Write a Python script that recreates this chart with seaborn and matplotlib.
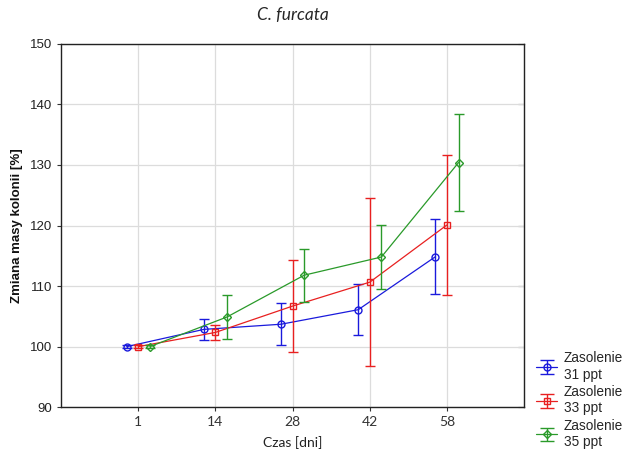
import numpy as np
import pandas as pd
import matplotlib
matplotlib.use("Agg")
import matplotlib.pyplot as plt
import seaborn as sns

days = ["1", "14", "28", "42", "58"]
series = ["Zasolenie\n31 ppt", "Zasolenie\n33 ppt", "Zasolenie\n35 ppt"]
mean_31 = [100.0, 102.85, 103.7, 106.1, 114.85]
err_31 = [0.3, 1.7, 3.5, 4.2, 6.2]
mean_33 = [100.0, 102.35, 106.7, 110.65, 120.1]
err_33 = [0.3, 1.2, 7.6, 13.85, 11.6]
mean_35 = [100.0, 104.9, 111.8, 114.8, 130.4]
err_35 = [0.3, 3.7, 4.4, 5.3, 8.0]

means = [mean_31, mean_33, mean_35]
errs = [err_31, err_33, err_35]
colors = ["#1a1adc", "#e82020", "#2a9a2a"]
markers = ["o", "s", "D"]
msizes = [5, 5, 3.8]
offsets = [-0.15, 0.0, 0.15]

rows = []
for s, m, e, off in zip(series, means, errs, offsets):
    for i, (d, v, ee) in enumerate(zip(days, m, e)):
        rows.append({"series": s, "day": d, "x": i + off, "mean": v, "err": ee})
df = pd.DataFrame(rows)

sns.set_style("whitegrid")
plt.rcParams["font.family"] = ["Liberation Sans", "DejaVu Sans"]

fig = plt.figure(figsize=(6.3, 4.57), dpi=100)
ax = fig.add_axes([0.097, 0.109, 0.735, 0.795])

for s, c, mk, ms in zip(series, colors, markers, msizes):
    sub = df[df["series"] == s]
    sns.lineplot(data=sub, x="x", y="mean", ax=ax, color=c, marker=mk,
                 markersize=ms, markerfacecolor="none", markeredgecolor=c,
                 markeredgewidth=1.0, linewidth=0.9, legend=False,
                 errorbar=None, sort=True)
    ax.errorbar(sub["x"], sub["mean"], yerr=sub["err"], fmt="none",
                ecolor=c, elinewidth=1.0, capsize=3.8, capthick=1.0)

ax.set_xlim(-1, 5)
ax.set_ylim(90, 150)
ax.set_xticks(range(len(days)))
ax.set_xticklabels(days, fontfamily="Lato", fontsize=10)
ax.set_yticks(np.arange(90, 151, 10))
ax.tick_params(axis="y", labelsize=9.5, colors="#333333", length=3, direction="out", left=True)
ax.tick_params(axis="x", length=3, direction="out", bottom=True, colors="#333333")
for lab in ax.get_yticklabels():
    lab.set_color("#222222")
ax.grid(True, color="#dcdcdc", linewidth=0.9)
for sp in ax.spines.values():
    sp.set_color("#222222")
    sp.set_linewidth(1.0)

ax.set_xlabel("Czas [dni]", fontfamily="Lato", fontsize=10, color="#222222", labelpad=6)
ax.set_ylabel("Zmiana masy kolonii [%]", fontsize=9.5, fontweight="bold", color="#111111", labelpad=5)
ax.set_title("C. furcata", fontfamily="Lato", fontstyle="italic", fontsize=12.5, pad=17)

# inward ticks on right spine
ax2 = ax.secondary_yaxis("right")
ax2.set_yticks(np.arange(90, 151, 10))
ax2.tick_params(direction="in", length=4, labelright=False, colors="#222222")

handles = []
for s, c, mk, ms in zip(series, colors, markers, msizes):
    h = ax.errorbar([np.nan], [np.nan], yerr=[1], fmt="-" + mk, color=c,
                    markersize=ms, markerfacecolor="none", markeredgecolor=c,
                    linewidth=0.9, elinewidth=1.0, capsize=5, label=s)
    handles.append(h)
fig.legend(handles=handles, labels=series, loc="lower left",
           bbox_to_anchor=(0.846, 0.012), frameon=False, fontsize=9.8,
           handlelength=1.6, handletextpad=0.45, labelspacing=0.25,
           borderaxespad=0.0, borderpad=0.2)

fig.savefig("out.png", dpi=100)
